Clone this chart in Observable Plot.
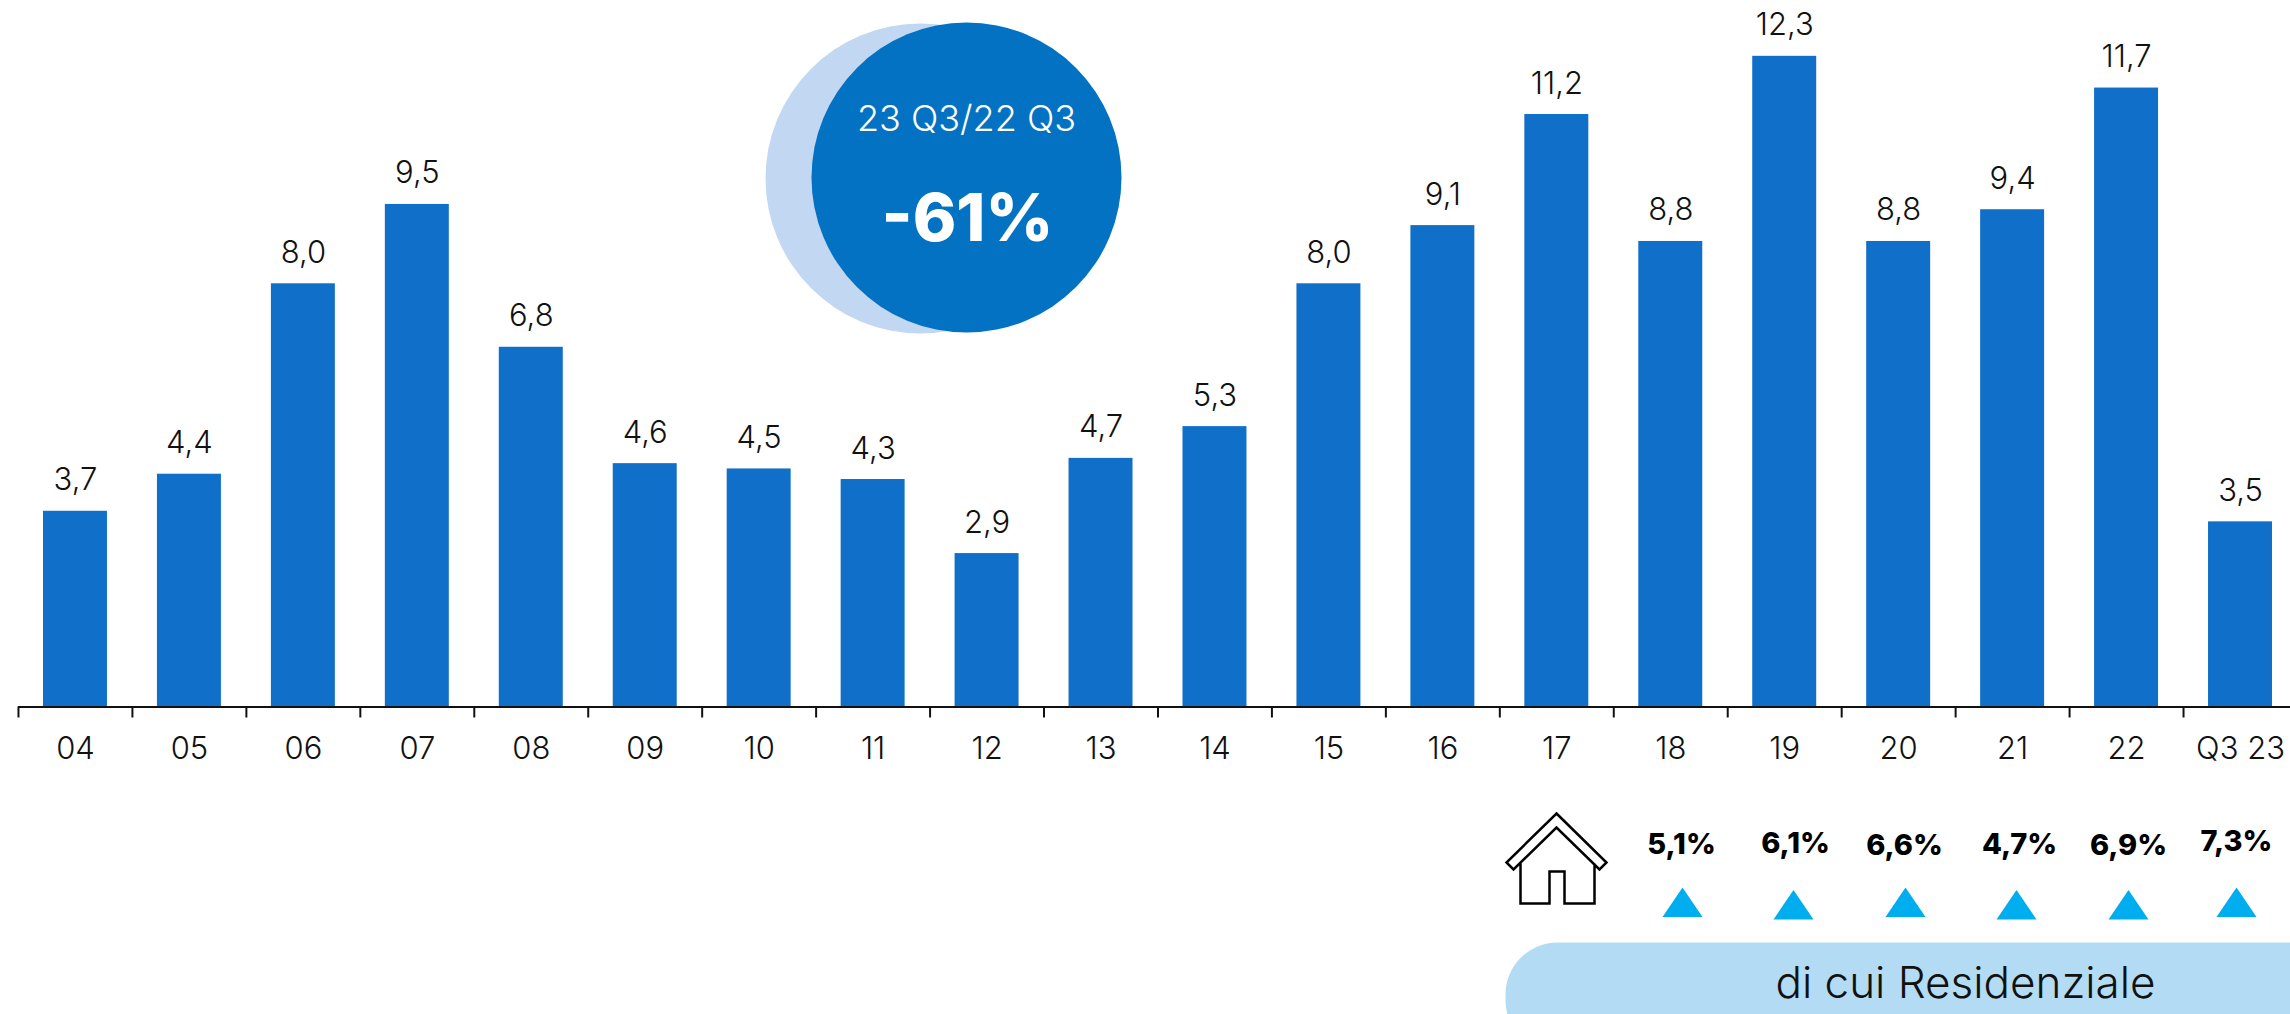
<!DOCTYPE html>
<html lang="it">
<head>
<meta charset="utf-8">
<style>
  html, body { margin: 0; padding: 0; background: #fff; overflow: hidden; }
  svg { display: block; }
</style>
<script src="https://cdn.jsdelivr.net/npm/d3@7"></script>
<script src="https://cdn.jsdelivr.net/npm/@observablehq/plot@0.6"></script>
</head>
<body>
<div id="chart"></div>
<script>
// Annual volumes, 2004 to Q3 2023
const periods = ["04","05","06","07","08","09","10","11","12","13","14","15","16","17","18","19","20","21","22","Q3 23"];
const volumes = [3.7,4.4,8.0,9.5,6.8,4.6,4.5,4.3,2.9,4.7,5.3,8.0,9.1,11.2,8.8,12.3,8.8,9.4,11.7,3.5];

// Residential share, last six periods
const residentialShare = ["5,1%","6,1%","6,6%","4,7%","6,9%","7,3%"];

const growthTitle = "23 Q3/22 Q3";
const growthValue = "-61%";
const residentialTitle = "di cui Residenziale";

const rows = periods.map((period, i) => ({period, volume: volumes[i]}));
const comma = (v) => v.toFixed(1).replace(".", ",");

const FONT = "Inter, 'Noto Sans', sans-serif";
const LEFT = 18;

// Absolute placement inside the frame for the annotation marks
const at = (px, py) => ({frameAnchor: "top-left", dx: px - LEFT, dy: py});

const triangle = {draw(c) { c.moveTo(0, -15); c.lineTo(20, 14.5); c.lineTo(-20, 14.5); c.closePath(); }};

const pill = {draw(c) {
  const r = 52, w = 820, h = 110;
  c.moveTo(r, 0); c.lineTo(w, 0); c.lineTo(w, h); c.lineTo(r, h);
  c.arcTo(0, h, 0, h - r, r); c.lineTo(0, r); c.arcTo(0, 0, r, 0, r); c.closePath();
}};

// Outline of the house icon, origin at the roof apex
const house = {draw(c) {
  c.moveTo(0, 0); c.lineTo(50, 49); c.lineTo(43, 56); c.lineTo(0, 14); c.lineTo(-43, 56); c.lineTo(-50, 49); c.closePath();
  c.moveTo(-36, 50); c.lineTo(-36, 90); c.lineTo(-7, 90); c.lineTo(-7, 58); c.lineTo(8, 58); c.lineTo(8, 90); c.lineTo(38, 90); c.lineTo(38, 50);
}};

const sharePlacement = [
  {label: [1681, 853], mark: [1682, 902]},
  {label: [1795, 852], mark: [1793, 904.5]},
  {label: [1904, 854], mark: [1905, 902]},
  {label: [2019, 853], mark: [2016, 904.5]},
  {label: [2128, 854], mark: [2128, 904.5]},
  {label: [2236, 850], mark: [2236, 902]}
];

const shareMarks = residentialShare.flatMap((share, i) => {
  const {label, mark} = sharePlacement[i];
  return [
    Plot.text([share], {...at(label[0], label[1]), fontSize: 29, fontWeight: 800, fill: "#000", lineAnchor: "bottom", textAnchor: "middle", letterSpacing: "-0.2px"}),
    Plot.dot([share], {...at(mark[0], mark[1]), symbol: triangle, fill: "#00aeef", stroke: "none"})
  ];
});

const chart = Plot.plot({
  width: 2290,
  height: 1014,
  marginLeft: LEFT,
  marginRight: 0,
  marginTop: 0,
  marginBottom: 307.5,
  style: {background: "#fff", fontFamily: FONT, overflow: "hidden"},
  x: {domain: periods, range: [LEFT, LEFT + 20 * 113.95], paddingInner: 0.4386, paddingOuter: 0.2193, align: 0.5, round: false, label: null},
  y: {domain: [0, 13.355], axis: null},
  marks: [
    Plot.barY(rows, {x: "period", y: "volume", fill: "#106fc8"}),
    Plot.axisX({tickSize: 0, tickPadding: 30, fontSize: 31, fontWeight: 300, fill: "#111", label: null, anchor: "bottom", letterSpacing: "1.5px"}),
    Plot.ruleY([0], {stroke: "#111", strokeWidth: 2}),
    Plot.ruleX(periods, {x: (d) => d, y1: 0, y2: 0, insetBottom: -11, dx: -57, stroke: "#111", strokeWidth: 2}),
    Plot.text(rows, {x: "period", y: "volume", text: (d) => comma(d.volume), dy: -21, lineAnchor: "bottom", fontSize: 31, fontWeight: 300, fill: "#111", letterSpacing: "1px"}),

    // Year-on-year badge
    Plot.dot([growthValue], {...at(920, 178), r: 155, fill: "#c1d7f2", stroke: "none"}),
    Plot.dot([growthValue], {...at(966, 177), r: 155, fill: "#0372c3", stroke: "none"}),
    Plot.text([growthTitle], {...at(966, 130), fontSize: 36, fontWeight: 300, fill: "#fff", lineAnchor: "bottom", textAnchor: "middle", letterSpacing: "0.7px"}),
    Plot.text([growthValue], {...at(967, 240), fontSize: 66, fontWeight: 800, fill: "#fff", lineAnchor: "bottom", textAnchor: "middle", letterSpacing: "-1.5px"}),

    // Residential strip
    Plot.dot([residentialTitle], {...at(1505, 942), symbol: pill, fill: "#b3dcf4", stroke: "none"}),
    Plot.text([residentialTitle], {...at(1965, 997), fontSize: 44, fontWeight: 300, fill: "#111", lineAnchor: "bottom", textAnchor: "middle", letterSpacing: "2.4px"}),
    Plot.dot([residentialTitle], {...at(1556, 813), symbol: house, fill: "none", stroke: "#000", strokeWidth: 2.5}),
    ...shareMarks
  ]
});

document.getElementById("chart").append(chart);
</script>
</body>
</html>
